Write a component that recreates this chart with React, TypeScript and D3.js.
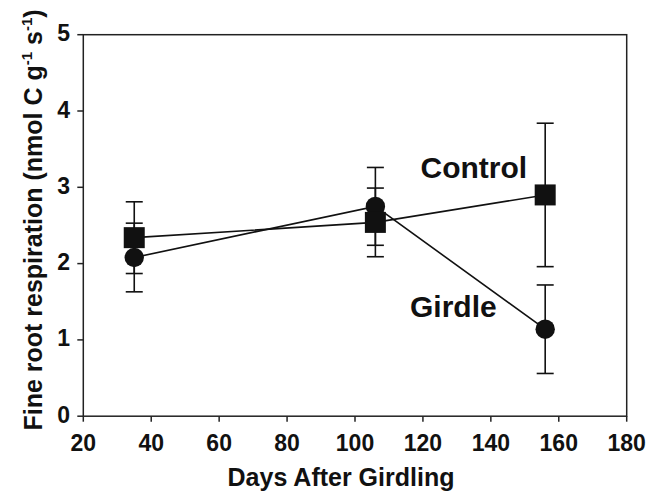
import React from "react";
import * as d3 from "d3";

const days = [35, 106, 156];
const controlMean = [2.34, 2.54, 2.9];
const controlErr = [0.47, 0.45, 0.94];
const girdleMean = [2.08, 2.75, 1.14];
const girdleErr = [0.45, 0.51, 0.58];
const xTicks = [20, 40, 60, 80, 100, 120, 140, 160, 180];
const yTicks = [0, 1, 2, 3, 4, 5];

const W = 659;
const H = 494;
const M = { left: 83.3, right: 626.7, top: 34.7, bottom: 416.2 };
const INK = "#111";
const FONT = "'Liberation Sans', Arial, Helvetica, sans-serif";

export default function App() {
  const x = d3.scaleLinear().domain([20, 180]).range([M.left, M.right]);
  const y = d3.scaleLinear().domain([0, 5]).range([M.bottom, M.top]);
  const line = d3
    .line<[number, number]>()
    .x((d) => x(d[0]))
    .y((d) => y(d[1]));

  const ctrl = days.map((d, i) => [d, controlMean[i]] as [number, number]);
  const gird = days.map((d, i) => [d, girdleMean[i]] as [number, number]);

  const capW = 8.5;
  const errBars = (means: number[], errs: number[], key: string) =>
    days.map((d, i) => {
      const cx = x(d);
      const yt = y(means[i] + errs[i]);
      const yb = y(means[i] - errs[i]);
      return (
        <g key={key + i} stroke={INK} strokeWidth={1.6}>
          <line x1={cx} x2={cx} y1={yt} y2={yb} />
          <line x1={cx - capW} x2={cx + capW} y1={yt} y2={yt} />
          <line x1={cx - capW} x2={cx + capW} y1={yb} y2={yb} />
        </g>
      );
    });

  const sq = 21;

  return (
    <svg
      width={W}
      height={H}
      style={{ position: "absolute", left: 0, top: 0, background: "#fff" }}
      fontFamily={FONT}
    >
      <rect x={0} y={0} width={W} height={H} fill="#fff" />
      {/* frame */}
      <rect
        x={M.left}
        y={M.top}
        width={M.right - M.left}
        height={M.bottom - M.top}
        fill="none"
        stroke="#222"
        strokeWidth={1.5}
      />
      {/* y ticks */}
      {yTicks.map((t) => (
        <g key={"y" + t}>
          <line x1={M.left - 6} x2={M.left} y1={y(t)} y2={y(t)} stroke="#222" strokeWidth={1.5} />
          <text
            x={70}
            y={y(t) + 6.5}
            textAnchor="end"
            fontSize={23}
            fontWeight="bold"
            fill={INK}
          >
            {t}
          </text>
        </g>
      ))}
      {/* x ticks */}
      {xTicks.map((t) => (
        <g key={"x" + t}>
          <line x1={x(t)} x2={x(t)} y1={M.bottom} y2={M.bottom + 5.5} stroke="#222" strokeWidth={1.5} />
          <text x={x(t)} y={451} textAnchor="middle" fontSize={23} fontWeight="bold" fill={INK}>
            {t}
          </text>
        </g>
      ))}
      {/* axis titles */}
      <text x={341} y={486} textAnchor="middle" fontSize={25} fontWeight="bold" fill={INK}>
        Days After Girdling
      </text>
      <text
        transform="translate(42,220) rotate(-90)"
        textAnchor="middle"
        fontSize={25}
        fontWeight="bold"
        fill={INK}
      >
        Fine root respiration (nmol C g
        <tspan fontSize={15} dy={-10}>-1</tspan>
        <tspan dy={10}> s</tspan>
        <tspan fontSize={15} dy={-10}>-1</tspan>
        <tspan dy={10}>)</tspan>
      </text>
      {/* lines */}
      <path d={line(ctrl) || ""} fill="none" stroke={INK} strokeWidth={1.6} />
      <path d={line(gird) || ""} fill="none" stroke={INK} strokeWidth={1.6} />
      {/* error bars */}
      {errBars(controlMean, controlErr, "c")}
      {errBars(girdleMean, girdleErr, "g")}
      {/* markers */}
      {gird.map((d, i) => (
        <circle key={"gc" + i} cx={x(d[0])} cy={y(d[1])} r={9.7} fill={INK} />
      ))}
      {ctrl.map((d, i) => (
        <rect
          key={"cs" + i}
          x={x(d[0]) - sq / 2}
          y={y(d[1]) - sq / 2}
          width={sq}
          height={sq}
          fill={INK}
        />
      ))}
      {/* labels */}
      <text x={420.5} y={177.7} fontSize={30} fontWeight="bold" fill={INK}>
        Control
      </text>
      <text x={410} y={316.7} fontSize={30} fontWeight="bold" fill={INK}>
        Girdle
      </text>
    </svg>
  );
}
